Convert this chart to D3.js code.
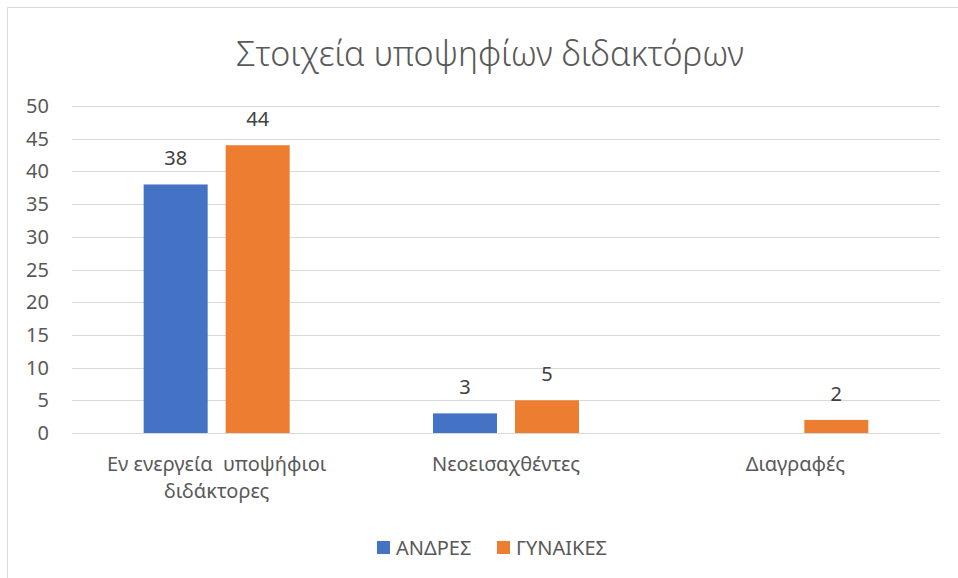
<!DOCTYPE html>
<html>
<head>
<meta charset="utf-8">
<script src="https://cdn.jsdelivr.net/npm/d3@7"></script>
<style>
  body { margin: 0; background: #fff; }
  svg { display: block; font-family: "Noto Sans", "Open Sans", sans-serif; }
</style>
</head>
<body>
<div id="chart"></div>
<script>
const title = "Στοιχεία υποψηφίων διδακτόρων";
const categories = [["Εν ενεργεία  υποψήφιοι", "διδάκτορες"], ["Νεοεισαχθέντες"], ["Διαγραφές"]];
const seriesNames = ["ΑΝΔΡΕΣ", "ΓΥΝΑΙΚΕΣ"];
const seriesColors = ["#4472C4", "#ED7D31"];
const andres = [38, 3, null];
const gynaikes = [44, 5, 2];
const yTicks = [0, 5, 10, 15, 20, 25, 30, 35, 40, 45, 50];

const width = 958, height = 578;
const margin = { left: 72, right: 18, top: 106, bottom: 145 };
const textColor = "#595959";
const fontSize = 20;

const svg = d3.select("#chart").append("svg")
  .attr("width", width)
  .attr("height", height);

// chart frame (right/bottom edges fall outside the picture)
svg.append("rect")
  .attr("x", 7.5).attr("y", 7.5)
  .attr("width", 1000).attr("height", 1000)
  .attr("fill", "#fff")
  .attr("stroke", "#d9d9d9");

svg.append("text")
  .attr("x", 490).attr("y", 66)
  .attr("text-anchor", "middle")
  .attr("font-size", 34)
  .attr("font-weight", 300)
  .attr("fill", textColor)
  .text(title);

const catKeys = categories.map((c, i) => i);
const x0 = d3.scaleBand()
  .domain(catKeys)
  .range([margin.left, width - margin.right])
  .paddingInner(0.4954)
  .paddingOuter(0.4954 / 2);

const x1 = d3.scaleBand()
  .domain(seriesNames)
  .range([0, x0.bandwidth()])
  .paddingInner(0.2195);

const y = d3.scaleLinear()
  .domain([0, 50])
  .range([433, margin.top]);

// gridlines
svg.append("g")
  .selectAll("line")
  .data(yTicks)
  .join("line")
  .attr("x1", margin.left).attr("x2", width - margin.right)
  .attr("y1", d => Math.round(y(d)) + 0.5)
  .attr("y2", d => Math.round(y(d)) + 0.5)
  .attr("stroke", "#d9d9d9")
  .attr("stroke-width", 1);

// y axis labels
svg.append("g")
  .selectAll("text")
  .data(yTicks)
  .join("text")
  .attr("x", 49)
  .attr("y", d => y(d))
  .attr("dy", "0.35em")
  .attr("text-anchor", "end")
  .attr("font-size", fontSize)
  .attr("fill", textColor)
  .text(d => d);

const rows = catKeys.map(i => [
  { series: seriesNames[0], value: andres[i], color: seriesColors[0], cat: i },
  { series: seriesNames[1], value: gynaikes[i], color: seriesColors[1], cat: i }
]);

const group = svg.append("g")
  .selectAll("g")
  .data(rows)
  .join("g")
  .attr("transform", (d, i) => `translate(${x0(i)},0)`);

group.selectAll("rect")
  .data(d => d.filter(v => v.value !== null))
  .join("rect")
  .attr("x", d => x1(d.series))
  .attr("y", d => y(d.value))
  .attr("width", x1.bandwidth())
  .attr("height", d => y(0) - y(d.value))
  .attr("fill", d => d.color);

group.selectAll("text")
  .data(d => d.filter(v => v.value !== null))
  .join("text")
  .attr("x", d => x1(d.series) + x1.bandwidth() / 2)
  .attr("y", d => y(d.value) - 19)
  .attr("text-anchor", "middle")
  .attr("font-size", fontSize)
  .attr("fill", "#404040")
  .text(d => d.value);

// category labels
const catLabels = svg.append("g")
  .selectAll("text")
  .data(categories)
  .join("text")
  .attr("x", (d, i) => x0(i) + x0.bandwidth() / 2)
  .attr("y", 471)
  .attr("text-anchor", "middle")
  .attr("font-size", fontSize)
  .attr("fill", textColor);

catLabels.selectAll("tspan")
  .data(d => d)
  .join("tspan")
  .attr("x", function() { return this.parentNode.getAttribute("x"); })
  .attr("dy", (d, i) => i === 0 ? 0 : 27)
  .style("white-space", "pre")
  .text(d => d);

// legend
const legendX = [377, 497];
const legend = svg.append("g")
  .selectAll("g")
  .data(seriesNames)
  .join("g")
  .attr("transform", (d, i) => `translate(${legendX[i]},541)`);

legend.append("rect")
  .attr("width", 13).attr("height", 13)
  .attr("fill", (d, i) => seriesColors[i]);

legend.append("text")
  .attr("x", 19).attr("y", 13.5)
  .attr("font-size", fontSize)
  .attr("fill", textColor)
  .text(d => d);
</script>
</body>
</html>
